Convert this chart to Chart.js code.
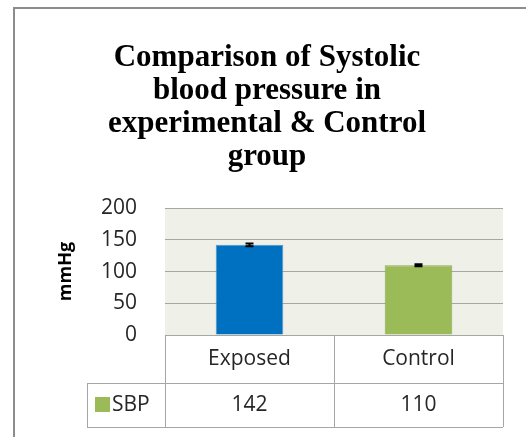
<!DOCTYPE html>
<html>
<head>
<meta charset="utf-8">
<script src="https://cdn.jsdelivr.net/npm/chart.js@4.4.1/dist/chart.umd.min.js"></script>
<style>
  html, body { margin: 0; padding: 0; background: #fff; }
  #wrap { position: relative; width: 526px; height: 437px; }
</style>
</head>
<body>
<div id="wrap"><canvas id="sbpChart" width="526" height="437"></canvas></div>
<script>
// data
const categories = ['Exposed', 'Control'];
const sbpValues = [142, 110];
const sbpErrors = [2, 1.5];
const barColors = ['#0070c0', '#9bbb59'];
const seriesName = 'SBP';
const seriesColor = '#9bbb59';
const yTicks = [0, 50, 100, 150, 200];

const tableFont = '21px "Open Sans"';
const lineColor = '#a6a6a6';

// fond gris de la zone de tracé + cadre extérieur
const backgroundPlugin = {
    id: 'background',
    beforeDraw(chart) {
        const { ctx, chartArea: a } = chart;
        ctx.save();
        ctx.fillStyle = '#eff1e9';
        ctx.fillRect(a.left, a.top, a.right - a.left, a.bottom - a.top);
        ctx.strokeStyle = '#8c8c8c';
        ctx.lineWidth = 2;
        ctx.beginPath();
        ctx.moveTo(14, chart.height);
        ctx.lineTo(14, 8);
        ctx.lineTo(chart.width, 8);
        ctx.stroke();
        ctx.restore();
    }
};

// barres d'erreur
const errorBarPlugin = {
    id: 'errorBars',
    afterDatasetsDraw(chart) {
        const { ctx } = chart;
        const y = chart.scales.y;
        const meta = chart.getDatasetMeta(0);
        ctx.save();
        ctx.strokeStyle = '#000';
        ctx.lineWidth = 2;
        meta.data.forEach((bar, i) => {
            const top = y.getPixelForValue(sbpValues[i] + sbpErrors[i]);
            const bot = y.getPixelForValue(sbpValues[i] - sbpErrors[i]);
            ctx.beginPath();
            ctx.moveTo(bar.x, top);
            ctx.lineTo(bar.x, bot);
            ctx.moveTo(bar.x - 4, top);
            ctx.lineTo(bar.x + 4, top);
            ctx.moveTo(bar.x - 4, bot);
            ctx.lineTo(bar.x + 4, bot);
            ctx.stroke();
        });
        ctx.restore();
    }
};

// tableau de données sous l'axe
const dataTablePlugin = {
    id: 'dataTable',
    afterDraw(chart) {
        const { ctx, chartArea: a } = chart;
        const x = chart.scales.x;
        const y0 = a.bottom, y1 = y0 + 48, y2 = y1 + 44;
        const legendLeft = 87;
        const bounds = [a.left];
        for (let i = 0; i < categories.length - 1; i++) {
            bounds.push((x.getPixelForValue(i) + x.getPixelForValue(i + 1)) / 2);
        }
        bounds.push(a.right);

        ctx.save();
        ctx.strokeStyle = lineColor;
        ctx.lineWidth = 1;
        ctx.beginPath();
        ctx.moveTo(a.left, y0 + 0.5); ctx.lineTo(a.right, y0 + 0.5);
        ctx.moveTo(legendLeft, y1 + 0.5); ctx.lineTo(a.right, y1 + 0.5);
        ctx.moveTo(legendLeft, y2 + 0.5); ctx.lineTo(a.right, y2 + 0.5);
        ctx.moveTo(legendLeft + 0.5, y1); ctx.lineTo(legendLeft + 0.5, y2);
        bounds.forEach(b => {
            const bx = Math.round(b) + 0.5;
            ctx.moveTo(bx, y0); ctx.lineTo(bx, y2);
        });
        ctx.stroke();

        ctx.fillStyle = '#262626';
        ctx.font = tableFont;
        ctx.textAlign = 'center';
        ctx.textBaseline = 'middle';
        categories.forEach((c, i) => {
            const cx = x.getPixelForValue(i);
            ctx.fillText(c, cx, (y0 + y1) / 2);
            ctx.fillText(String(sbpValues[i]), cx, (y1 + y2) / 2);
        });

        // légende dans la première cellule
        const my = (y1 + y2) / 2;
        ctx.fillStyle = seriesColor;
        ctx.fillRect(95, my - 8, 15, 15);
        ctx.fillStyle = '#262626';
        ctx.textAlign = 'left';
        ctx.fillText(seriesName, 112, my);
        ctx.restore();
    }
};

new Chart(document.getElementById('sbpChart'), {
    type: 'bar',
    data: {
        labels: categories,
        datasets: [{
            label: seriesName,
            data: sbpValues,
            backgroundColor: barColors,
            borderColor: ['#5b8fc0', '#8faa55'],
            borderWidth: 1,
            barPercentage: 0.4,
            categoryPercentage: 1
        }]
    },
    options: {
        responsive: false,
        animation: false,
        layout: { padding: { left: 31, right: 23, top: 0, bottom: 102 } },
        plugins: {
            legend: { display: false },
            tooltip: { enabled: false },
            title: {
                display: true,
                text: ['Comparison of Systolic', 'blood pressure in', 'experimental & Control', 'group'],
                color: '#000',
                font: { family: '"Liberation Serif", "Times New Roman", serif', size: 31, weight: 'bold', lineHeight: 1.065 },
                padding: { top: 41, bottom: 35 }
            }
        },
        scales: {
            x: { display: false },
            y: {
                min: 0,
                max: 200,
                afterBuildTicks: (scale) => { scale.ticks = yTicks.map(v => ({ value: v })); },
                afterFit: (scale) => { scale.width = 134; },
                border: { display: false },
                grid: { color: '#a6a6a6', drawTicks: false },
                ticks: {
                    padding: 28,
                    color: '#262626',
                    font: { family: '"Open Sans"', size: 21 }
                },
                title: {
                    display: true,
                    text: 'mmHg',
                    color: '#000',
                    font: { family: '"Open Sans"', size: 18, weight: 'bold' },
                    padding: { top: 24 }
                }
            }
        }
    },
    plugins: [backgroundPlugin, errorBarPlugin, dataTablePlugin]
});
</script>
</body>
</html>
